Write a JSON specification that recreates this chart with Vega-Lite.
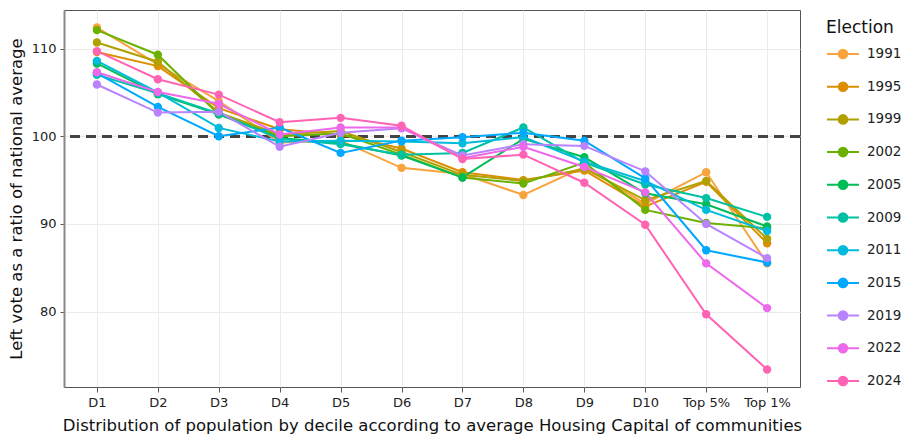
{
  "$schema": "https://vega.github.io/schema/vega-lite/v6.json",
  "width": 736,
  "height": 377,
  "autosize": {"type": "none"},
  "padding": {"left": 64, "top": 10, "right": 101, "bottom": 52},
  "background": "white",
  "config": {
    "font": "DejaVu Sans",
    "view": {"stroke": "#555555", "strokeWidth": 1},
    "axis": {"gridColor": "#ebebeb", "gridWidth": 1, "labelColor": "#222222", "titleColor": "#111111", "labelFontSize": 13, "titleFontSize": 16.5, "titleFontWeight": "normal", "tickColor": "#555555", "domainColor": "#888888"}
  },
  "data": {"values": [
    {"decile":"D1","Election":"1991","v":112.4},{"decile":"D2","Election":"1991","v":108.2},{"decile":"D3","Election":"1991","v":104.0},{"decile":"D4","Election":"1991","v":99.3},{"decile":"D5","Election":"1991","v":99.5},{"decile":"D6","Election":"1991","v":96.4},{"decile":"D7","Election":"1991","v":95.7},{"decile":"D8","Election":"1991","v":93.3},{"decile":"D9","Election":"1991","v":96.5},{"decile":"D10","Election":"1991","v":92.3},{"decile":"Top 5%","Election":"1991","v":95.9},{"decile":"Top 1%","Election":"1991","v":85.5},
    {"decile":"D1","Election":"1995","v":109.6},{"decile":"D2","Election":"1995","v":108.0},{"decile":"D3","Election":"1995","v":103.2},{"decile":"D4","Election":"1995","v":100.8},{"decile":"D5","Election":"1995","v":100.2},{"decile":"D6","Election":"1995","v":98.6},{"decile":"D7","Election":"1995","v":95.9},{"decile":"D8","Election":"1995","v":95.0},{"decile":"D9","Election":"1995","v":96.1},{"decile":"D10","Election":"1995","v":92.0},{"decile":"Top 5%","Election":"1995","v":94.8},{"decile":"Top 1%","Election":"1995","v":87.8},
    {"decile":"D1","Election":"1999","v":110.7},{"decile":"D2","Election":"1999","v":108.5},{"decile":"D3","Election":"1999","v":102.7},{"decile":"D4","Election":"1999","v":100.2},{"decile":"D5","Election":"1999","v":100.6},{"decile":"D6","Election":"1999","v":98.2},{"decile":"D7","Election":"1999","v":95.6},{"decile":"D8","Election":"1999","v":94.9},{"decile":"D9","Election":"1999","v":96.3},{"decile":"D10","Election":"1999","v":92.7},{"decile":"Top 5%","Election":"1999","v":94.9},{"decile":"Top 1%","Election":"1999","v":88.3},
    {"decile":"D1","Election":"2002","v":112.1},{"decile":"D2","Election":"2002","v":109.3},{"decile":"D3","Election":"2002","v":102.5},{"decile":"D4","Election":"2002","v":100.0},{"decile":"D5","Election":"2002","v":100.3},{"decile":"D6","Election":"2002","v":97.9},{"decile":"D7","Election":"2002","v":95.3},{"decile":"D8","Election":"2002","v":94.6},{"decile":"D9","Election":"2002","v":97.0},{"decile":"D10","Election":"2002","v":91.6},{"decile":"Top 5%","Election":"2002","v":90.1},{"decile":"Top 1%","Election":"2002","v":89.5},
    {"decile":"D1","Election":"2005","v":108.3},{"decile":"D2","Election":"2005","v":104.8},{"decile":"D3","Election":"2005","v":102.5},{"decile":"D4","Election":"2005","v":99.8},{"decile":"D5","Election":"2005","v":99.2},{"decile":"D6","Election":"2005","v":97.8},{"decile":"D7","Election":"2005","v":95.3},{"decile":"D8","Election":"2005","v":99.7},{"decile":"D9","Election":"2005","v":97.6},{"decile":"D10","Election":"2005","v":93.5},{"decile":"Top 5%","Election":"2005","v":92.25},{"decile":"Top 1%","Election":"2005","v":89.7},
    {"decile":"D1","Election":"2009","v":107.0},{"decile":"D2","Election":"2009","v":104.9},{"decile":"D3","Election":"2009","v":102.6},{"decile":"D4","Election":"2009","v":99.7},{"decile":"D5","Election":"2009","v":99.1},{"decile":"D6","Election":"2009","v":97.9},{"decile":"D7","Election":"2009","v":98.1},{"decile":"D8","Election":"2009","v":101.0},{"decile":"D9","Election":"2009","v":97.0},{"decile":"D10","Election":"2009","v":94.5},{"decile":"Top 5%","Election":"2009","v":92.95},{"decile":"Top 1%","Election":"2009","v":90.8},
    {"decile":"D1","Election":"2011","v":108.6},{"decile":"D2","Election":"2011","v":105.0},{"decile":"D3","Election":"2011","v":100.95},{"decile":"D4","Election":"2011","v":99.4},{"decile":"D5","Election":"2011","v":99.5},{"decile":"D6","Election":"2011","v":99.4},{"decile":"D7","Election":"2011","v":99.2},{"decile":"D8","Election":"2011","v":99.9},{"decile":"D9","Election":"2011","v":97.1},{"decile":"D10","Election":"2011","v":94.9},{"decile":"Top 5%","Election":"2011","v":91.6},{"decile":"Top 1%","Election":"2011","v":89.2},
    {"decile":"D1","Election":"2015","v":107.2},{"decile":"D2","Election":"2015","v":103.35},{"decile":"D3","Election":"2015","v":100.0},{"decile":"D4","Election":"2015","v":101.0},{"decile":"D5","Election":"2015","v":98.1},{"decile":"D6","Election":"2015","v":99.5},{"decile":"D7","Election":"2015","v":99.9},{"decile":"D8","Election":"2015","v":100.4},{"decile":"D9","Election":"2015","v":99.5},{"decile":"D10","Election":"2015","v":95.2},{"decile":"Top 5%","Election":"2015","v":87.0},{"decile":"Top 1%","Election":"2015","v":85.6},
    {"decile":"D1","Election":"2019","v":105.9},{"decile":"D2","Election":"2019","v":102.7},{"decile":"D3","Election":"2019","v":102.8},{"decile":"D4","Election":"2019","v":98.8},{"decile":"D5","Election":"2019","v":100.4},{"decile":"D6","Election":"2019","v":100.9},{"decile":"D7","Election":"2019","v":97.8},{"decile":"D8","Election":"2019","v":99.1},{"decile":"D9","Election":"2019","v":98.9},{"decile":"D10","Election":"2019","v":96.0},{"decile":"Top 5%","Election":"2019","v":90.0},{"decile":"Top 1%","Election":"2019","v":86.1},
    {"decile":"D1","Election":"2022","v":107.3},{"decile":"D2","Election":"2022","v":105.05},{"decile":"D3","Election":"2022","v":103.7},{"decile":"D4","Election":"2022","v":100.2},{"decile":"D5","Election":"2022","v":101.0},{"decile":"D6","Election":"2022","v":101.0},{"decile":"D7","Election":"2022","v":97.5},{"decile":"D8","Election":"2022","v":98.8},{"decile":"D9","Election":"2022","v":96.5},{"decile":"D10","Election":"2022","v":93.6},{"decile":"Top 5%","Election":"2022","v":85.5},{"decile":"Top 1%","Election":"2022","v":80.4},
    {"decile":"D1","Election":"2024","v":109.7},{"decile":"D2","Election":"2024","v":106.5},{"decile":"D3","Election":"2024","v":104.75},{"decile":"D4","Election":"2024","v":101.6},{"decile":"D5","Election":"2024","v":102.1},{"decile":"D6","Election":"2024","v":101.2},{"decile":"D7","Election":"2024","v":97.4},{"decile":"D8","Election":"2024","v":97.9},{"decile":"D9","Election":"2024","v":94.7},{"decile":"D10","Election":"2024","v":89.9},{"decile":"Top 5%","Election":"2024","v":79.7},{"decile":"Top 1%","Election":"2024","v":73.4}
  ]},
  "encoding": {
    "x": {"field": "decile", "type": "ordinal", "sort": ["D1","D2","D3","D4","D5","D6","D7","D8","D9","D10","Top 5%","Top 1%"],
      "scale": {"type": "point", "padding": 0.54},
      "axis": {"title": "Distribution of population by decile according to average Housing Capital of communities", "labelAngle": 0, "grid": true, "tickSize": 5, "labelPadding": 4, "titlePadding": 8, "domain": false}},
    "y": {"field": "v", "type": "quantitative", "scale": {"domain": [71.4, 114.4], "nice": false, "zero": false},
      "axis": {"title": "Left vote as a ratio of national average", "values": [80, 90, 100, 110], "tickSize": 4, "labelPadding": 4, "titlePadding": 7, "domainWidth": 2}},
    "color": {"field": "Election", "type": "nominal",
      "scale": {"domain": ["1991","1995","1999","2002","2005","2009","2011","2015","2019","2022","2024"],
        "range": ["#F8A33D","#DD8E00","#B0A000","#6BB100","#00BC56","#00C1A4","#00BBDB","#00A8FF","#B983FF","#EE68EB","#FF63B4"]},
      "legend": {"title": "Election", "titleFontSize": 17, "titleFontWeight": "normal", "titleColor": "#111", "labelFontSize": 13.5, "labelColor": "#222",
        "orient": "none", "legendX": 762, "legendY": 10, "padding": 0, "titlePadding": 0,
        "symbolType": "M-1,0L1,0M-0.27,0A0.27,0.27,0,1,1,0.27,0A0.27,0.27,0,1,1,-0.27,0Z",
        "symbolSize": 1024, "symbolStrokeWidth": 2, "rowPadding": 6.7, "labelOffset": 7,
        "encode": {"symbols": {"update": {"fill": {"scale": "color", "field": "value"}, "stroke": {"scale": "color", "field": "value"}, "opacity": {"value": 1}}}}}}
  },
  "layer": [
    {"mark": {"type": "rule", "strokeDash": [10, 6], "strokeWidth": 2.2, "color": "#444444"}, "encoding": {"y": {"datum": 100}, "x": null, "color": null}},
    {"mark": {"type": "line", "strokeWidth": 2, "opacity": 1}},
    {"mark": {"type": "circle", "size": 70, "opacity": 1}}
  ]
}
